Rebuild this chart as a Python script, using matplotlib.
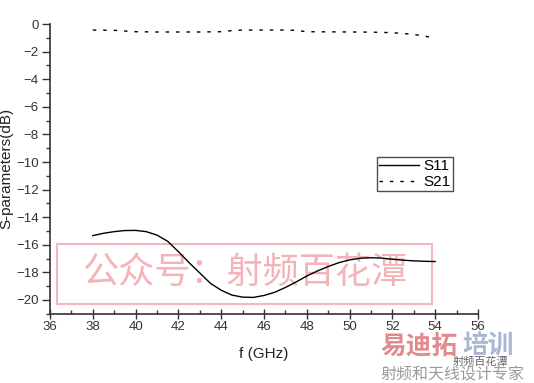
import numpy as np
import matplotlib.pyplot as plt
from matplotlib.patches import Rectangle

plt.rcParams['font.family'] = ['Liberation Sans', 'Noto Sans CJK SC', 'DejaVu Sans']

# S11 curve
s11_f = [38.0, 38.5, 39.0, 39.5, 40.0, 40.5, 41.0, 41.5, 42.0, 42.5, 43.0, 43.5,
         44.0, 44.5, 45.0, 45.5, 46.0, 46.5, 47.0, 47.5, 48.0, 48.5, 49.0, 49.5,
         50.0, 50.5, 51.0, 51.5, 52.0, 52.5, 53.0, 53.5, 54.0]
s11_db = [-15.34, -15.17, -15.05, -14.97, -14.96, -15.05, -15.3, -15.75, -16.5, -17.3,
          -18.05, -18.8, -19.3, -19.65, -19.8, -19.82, -19.68, -19.45, -19.1, -18.7,
          -18.27, -17.9, -17.58, -17.3, -17.1, -16.98, -16.94, -16.97, -17.05, -17.12,
          -17.17, -17.2, -17.22]

# S21 curve
s21_f = [38, 39, 40, 41, 42, 43, 44, 44.5, 45, 46, 47, 47.5, 48, 49, 50, 51, 52, 52.5, 53, 53.5, 54]
s21_db = [-0.43, -0.45, -0.55, -0.57, -0.57, -0.57, -0.55, -0.47, -0.43, -0.43, -0.43,
          -0.45, -0.55, -0.56, -0.57, -0.58, -0.62, -0.68, -0.75, -0.86, -1.05]

fig = plt.figure(figsize=(5.34, 3.83), dpi=100)
ax = fig.add_axes([0.0936, 0.181, 0.8015, 0.756])

# watermark box behind the curves
ax.add_patch(Rectangle((0.017, 0.033), 0.875, 0.207, transform=ax.transAxes,
                       fill=False, edgecolor='#f2b8bc', lw=1.5, zorder=0))
ax.text(0.455, 0.14, '公众号：射频百花潭', transform=ax.transAxes,
        ha='center', va='center', fontsize=26, color='#f3b3b8',
        family=['Noto Sans CJK SC'], zorder=0)

ax.plot(s11_f, s11_db, color='black', lw=1.0, label='S11')
ax.plot(s21_f, s21_db, color='black', lw=1.0, linestyle=(0, (2.5, 5)), label='S21')

ax.set_xlim(36, 56)
ax.set_ylim(-21, 0)
ax.set_xticks(np.arange(36, 57, 2))
ax.set_xticks(np.arange(37, 56, 2), minor=True)
ax.set_yticks(np.arange(-20, 1, 2))
ax.set_yticks(np.arange(-21, 0, 2), minor=True)

for s in ['top', 'right']:
    ax.spines[s].set_visible(False)
for s in ['left', 'bottom']:
    ax.spines[s].set_color('#333333')
    ax.spines[s].set_linewidth(1.2)

ax.tick_params(axis='x', which='major', direction='inout', length=7, width=1, colors='#333333',
               labelsize=9.5, pad=2)
ax.tick_params(axis='x', which='minor', direction='in', length=3, width=1, colors='#333333')
ax.tick_params(axis='y', which='major', direction='out', length=6, width=1, colors='#333333',
               labelsize=9.5, pad=2)
ax.tick_params(axis='y', which='minor', direction='out', length=3, width=1, colors='#333333')

ax.set_xlabel('f (GHz)', fontsize=11, color='#222222', labelpad=10)
ax.set_ylabel('S-parameters(dB)', fontsize=11, color='#222222', labelpad=2)

leg = ax.legend(loc='upper left', bbox_to_anchor=(0.764, 0.541), fontsize=11,
                frameon=True, fancybox=False, borderpad=0.15, handlelength=2.6,
                handletextpad=0.3, labelspacing=0.1, borderaxespad=0)
leg.get_frame().set_edgecolor('#222222')
leg.get_frame().set_linewidth(1.0)

# logo watermark, bottom right
fig.text(0.712, 0.06, '易迪拓', fontsize=18.5, fontweight='bold', color='#e38a8f',
         family=['Noto Sans CJK SC'], ha='left', va='bottom')
fig.text(0.866, 0.06, '培训', fontsize=18.5, fontweight='bold', color='#a9b8d0',
         family=['Noto Sans CJK SC'], ha='left', va='bottom')
fig.text(0.848, 0.043, '射频百花潭', fontsize=8, color='#666666',
         family=['Noto Sans CJK SC'], ha='left', va='bottom')
fig.text(0.712, 0.0, '射频和天线设计专家', fontsize=11.5, color='#9a9a9a',
         family=['Noto Sans CJK SC'], ha='left', va='bottom')

fig.savefig('out.png', dpi=100)
